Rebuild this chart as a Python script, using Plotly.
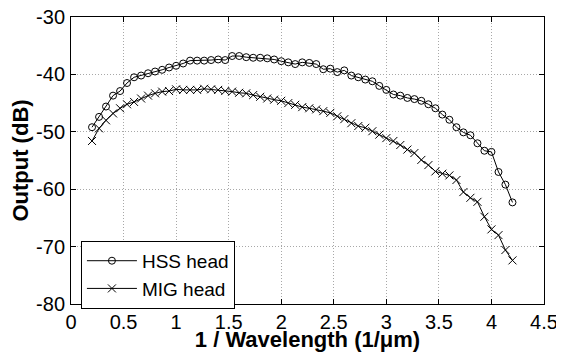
import plotly.graph_objects as go

wavenumber = [0.2, 0.267, 0.333, 0.4, 0.467, 0.533, 0.6, 0.667, 0.733, 0.8,
              0.867, 0.933, 1.0, 1.067, 1.133, 1.2, 1.267, 1.333, 1.4, 1.467,
              1.533, 1.6, 1.667, 1.733, 1.8, 1.867, 1.933, 2.0, 2.067, 2.133,
              2.2, 2.267, 2.333, 2.4, 2.467, 2.533, 2.6, 2.667, 2.733, 2.8,
              2.867, 2.933, 3.0, 3.067, 3.133, 3.2, 3.267, 3.333, 3.4, 3.467,
              3.533, 3.6, 3.667, 3.733, 3.8, 3.867, 3.933, 4.0, 4.067, 4.133, 4.2]

hss_head = [-49.2, -47.4, -45.6, -43.7, -42.9, -41.5, -40.5, -40.2, -39.8, -39.5,
            -39.2, -38.8, -38.5, -38.1, -37.6, -37.6, -37.6, -37.5, -37.4, -37.5,
            -36.8, -36.8, -37.0, -37.1, -37.1, -37.2, -37.4, -37.7, -37.9, -38.2,
            -37.9, -38.0, -38.2, -39.1, -39.0, -39.6, -39.3, -40.2, -40.5, -40.9,
            -41.2, -42.0, -42.7, -43.5, -43.7, -44.1, -44.3, -44.6, -45.2, -45.9,
            -47.0, -47.9, -49.2, -50.1, -50.6, -52.0, -53.3, -53.5, -57.0, -59.2, -62.3]

mig_head = [-51.6, -49.4, -48.0, -46.8, -45.9, -45.2, -44.8, -44.2, -43.7, -43.3,
            -43.0, -42.9, -42.6, -42.7, -42.7, -42.7, -42.5, -42.6, -42.7, -42.9,
            -43.0, -43.2, -43.3, -43.6, -43.9, -44.2, -44.4, -44.6, -45.0, -45.3,
            -45.7, -45.9, -46.1, -46.4, -46.7, -47.3, -47.8, -48.5, -49.0, -49.3,
            -49.9, -50.5, -51.1, -51.6, -52.3, -53.1, -53.7, -54.9, -55.8, -56.9,
            -57.3, -57.6, -58.4, -60.5, -61.5, -62.2, -64.8, -67.0, -68.0, -70.6, -72.4]

x_ticks = [0, 0.5, 1, 1.5, 2, 2.5, 3, 3.5, 4, 4.5]
x_tick_labels = ["0", "0.5", "1", "1.5", "2", "2.5", "3", "3.5", "4", "4.5"]
y_ticks = [-80, -70, -60, -50, -40, -30]
y_tick_labels = ["-80", "-70", "-60", "-50", "-40", "-30"]

FONT = "Liberation Sans, Arial, sans-serif"

fig = go.Figure()
fig.add_trace(go.Scatter(
    x=wavenumber, y=hss_head, name="HSS head", mode="lines+markers",
    line=dict(color="black", width=1),
    marker=dict(symbol="circle-open", size=7, color="black", line=dict(width=1)),
))
fig.add_trace(go.Scatter(
    x=wavenumber, y=mig_head, name="MIG head", mode="lines+markers",
    line=dict(color="black", width=1),
    marker=dict(symbol="x-thin-open", size=8, color="black", line=dict(width=1, color="black")),
))

axis_common = dict(
    showline=True, linecolor="black", linewidth=1, mirror="allticks",
    ticks="inside", ticklen=5, tickcolor="black",
    showgrid=True, gridcolor="#a8a8a8", griddash="1px,2px", gridwidth=1,
    zeroline=False, automargin=False, ticklabeloverflow="allow",
    tickfont=dict(family=FONT, size=20, color="black"),
)

fig.update_xaxes(
    range=[0, 4.5], tickvals=x_ticks, ticktext=x_tick_labels, ticklabelstandoff=0,
    title=dict(text="<b>1 / Wavelength (1/μm)</b>", font=dict(family=FONT, size=22, color="black"), standoff=3),
    **axis_common,
)
fig.update_yaxes(
    range=[-80, -30], tickvals=y_ticks, ticktext=y_tick_labels, ticklabelstandoff=1,
    title=dict(text="<b>Output (dB)</b>", font=dict(family=FONT, size=22, color="black"), standoff=1),
    **axis_common,
)

# page body has an 8px default margin, so the figure is sized to fit the 564x352 window
fig.update_layout(
    width=556, height=344,
    margin=dict(l=63, r=20, t=9, b=48),
    paper_bgcolor="white", plot_bgcolor="white",
    font=dict(family=FONT, color="black"),
    legend=dict(
        x=0.021, y=0.22, xanchor="left", yanchor="top",
        bgcolor="white", bordercolor="black", borderwidth=1,
        font=dict(family=FONT, size=19, color="black"),
        itemwidth=50, tracegroupgap=0,
    ),
)

fig.write_html("out.html")
